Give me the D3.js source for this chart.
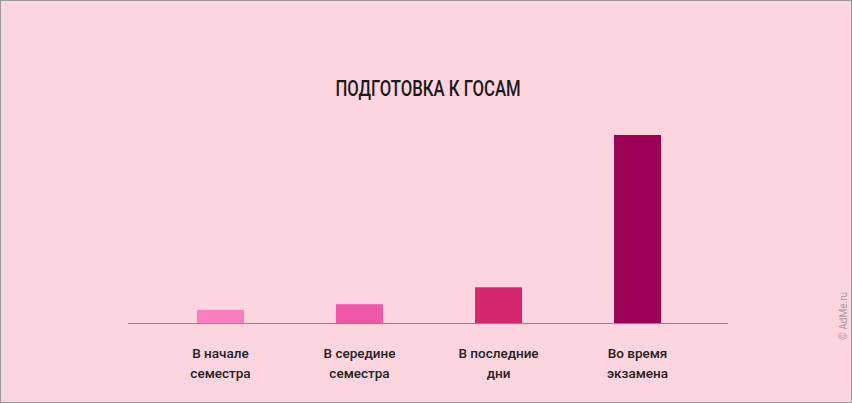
<!DOCTYPE html><html><head><meta charset="utf-8"><script src="https://cdn.jsdelivr.net/npm/d3@7"></script>
<style>body{margin:0;background:#fdd5df}</style></head><body><svg id="c" width="852" height="403"></svg>
<script>
const categories=[["В начале","семестра"],["В середине","семестра"],["В последние","дни"],["Во время","экзамена"]];
const values=[7,10,19,100];
const colors=["#fb7ec0","#ee58a6","#d3286e","#9c0055"];
const title="ПОДГОТОВКА К ГОСАМ";
const svg=d3.select("#c");
svg.append("rect").attr("x",0.5).attr("y",0.5).attr("width",851).attr("height",402).attr("fill","#fdd5df").attr("stroke","#999");
const x=d3.scalePoint().domain(d3.range(4)).range([220.5,637.5]);
const bw=47;
const y=d3.scaleLinear().domain([0,100]).range([323,135]);
svg.selectAll(".b").data(values).join("rect").attr("x",(d,i)=>x(i)-bw/2).attr("width",bw).attr("y",d=>y(d)).attr("height",d=>323-y(d)).attr("fill",(d,i)=>colors[i]);
svg.append("line").attr("x1",128).attr("x2",728).attr("y1",323.5).attr("y2",323.5).attr("stroke","#a07a88").attr("stroke-width",1.2);
categories.forEach((c,i)=>{c.forEach((t,j)=>svg.append("text").attr("x",x(i)).attr("y",358+j*20).attr("text-anchor","middle").attr("font-family","Roboto, sans-serif").attr("font-weight","500").attr("font-size",13.5).attr("fill","#222").text(t));});
svg.append("text").attr("transform","translate(428,96) scale(0.76,1)").attr("text-anchor","middle").attr("font-family","Roboto, sans-serif").attr("font-weight","500").attr("font-size",22).attr("fill","#1a1a1a").text(title);
svg.append("text").attr("transform","translate(847,340) rotate(-90)").attr("font-family","Roboto, sans-serif").attr("font-size",10).attr("fill","#a89aa0").text("© AdMe.ru");
</script></body></html>
